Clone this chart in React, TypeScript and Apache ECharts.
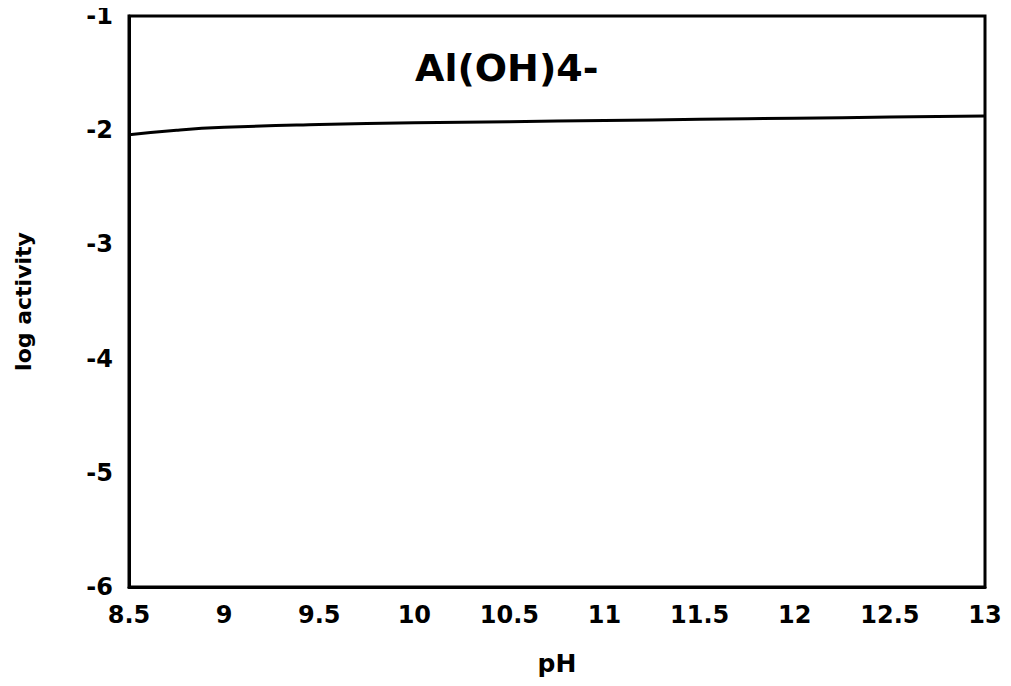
import React, { useEffect, useRef } from "react";
import * as echarts from "echarts";

// pH values along the curve and the matching log activity of Al(OH)4-
const phValues = [8.5, 8.75, 9, 9.5, 10, 10.5, 11, 11.5, 12, 12.5, 13];
const logActivity = [-2.04, -2.0, -1.975, -1.95, -1.935, -1.925, -1.915, -1.905, -1.895, -1.885, -1.875];

const speciesLabel = "Al(OH)4-";
const xTitle = "pH";
const yTitle = "log activity";

const FONT = "'DejaVu Sans', 'Liberation Sans', Arial, sans-serif";

export default function App() {
  const ref = useRef<HTMLDivElement>(null);

  useEffect(() => {
    if (!ref.current) return;
    const chart = echarts.init(ref.current, undefined, { renderer: "svg" });
    chart.setOption({
      animation: false,
      backgroundColor: "#ffffff",
      grid: {
        left: 129,
        right: 26,
        top: 16,
        bottom: 99,
        outerBoundsMode: "none",
        containLabel: false,
        show: true,
        borderColor: "#000",
        borderWidth: 3,
      },
      title: {
        text: speciesLabel,
        left: 410,
        top: 44,
        textStyle: { fontFamily: FONT, fontSize: 38, fontWeight: "bold", color: "#000" },
      },
      xAxis: {
        type: "value",
        min: 8.5,
        max: 13,
        interval: 0.5,
        name: xTitle,
        nameLocation: "middle",
        nameGap: 64,
        nameTextStyle: { fontFamily: FONT, fontSize: 25, fontWeight: "bold", color: "#000" },
        axisLine: { show: true, lineStyle: { color: "#000", width: 3 } },
        axisTick: { show: false },
        splitLine: { show: false },
        axisLabel: {
          margin: 16,
          fontFamily: FONT,
          fontSize: 24,
          fontWeight: "bold",
          color: "#000",
          formatter: (v: number) => String(v),
        },
      },
      yAxis: {
        type: "value",
        min: -6,
        max: -1,
        interval: 1,
        name: yTitle,
        nameLocation: "middle",
        nameGap: 95,
        nameRotate: 90,
        nameTextStyle: { fontFamily: FONT, fontSize: 22, fontWeight: "bold", color: "#000" },
        axisLine: { show: true, lineStyle: { color: "#000", width: 3 } },
        axisTick: { show: false },
        splitLine: { show: false },
        axisLabel: {
          margin: 16,
          fontFamily: FONT,
          fontSize: 24,
          fontWeight: "bold",
          color: "#000",
        },
      },
      series: [
        {
          type: "line",
          data: phValues.map((x, i) => [x, logActivity[i]]),
          smooth: true,
          showSymbol: false,
          lineStyle: { color: "#000", width: 3 },
        },
      ],
    });
    return () => chart.dispose();
  }, []);

  return <div ref={ref} style={{ width: 1011, height: 686, margin: -8 }} />;
}
